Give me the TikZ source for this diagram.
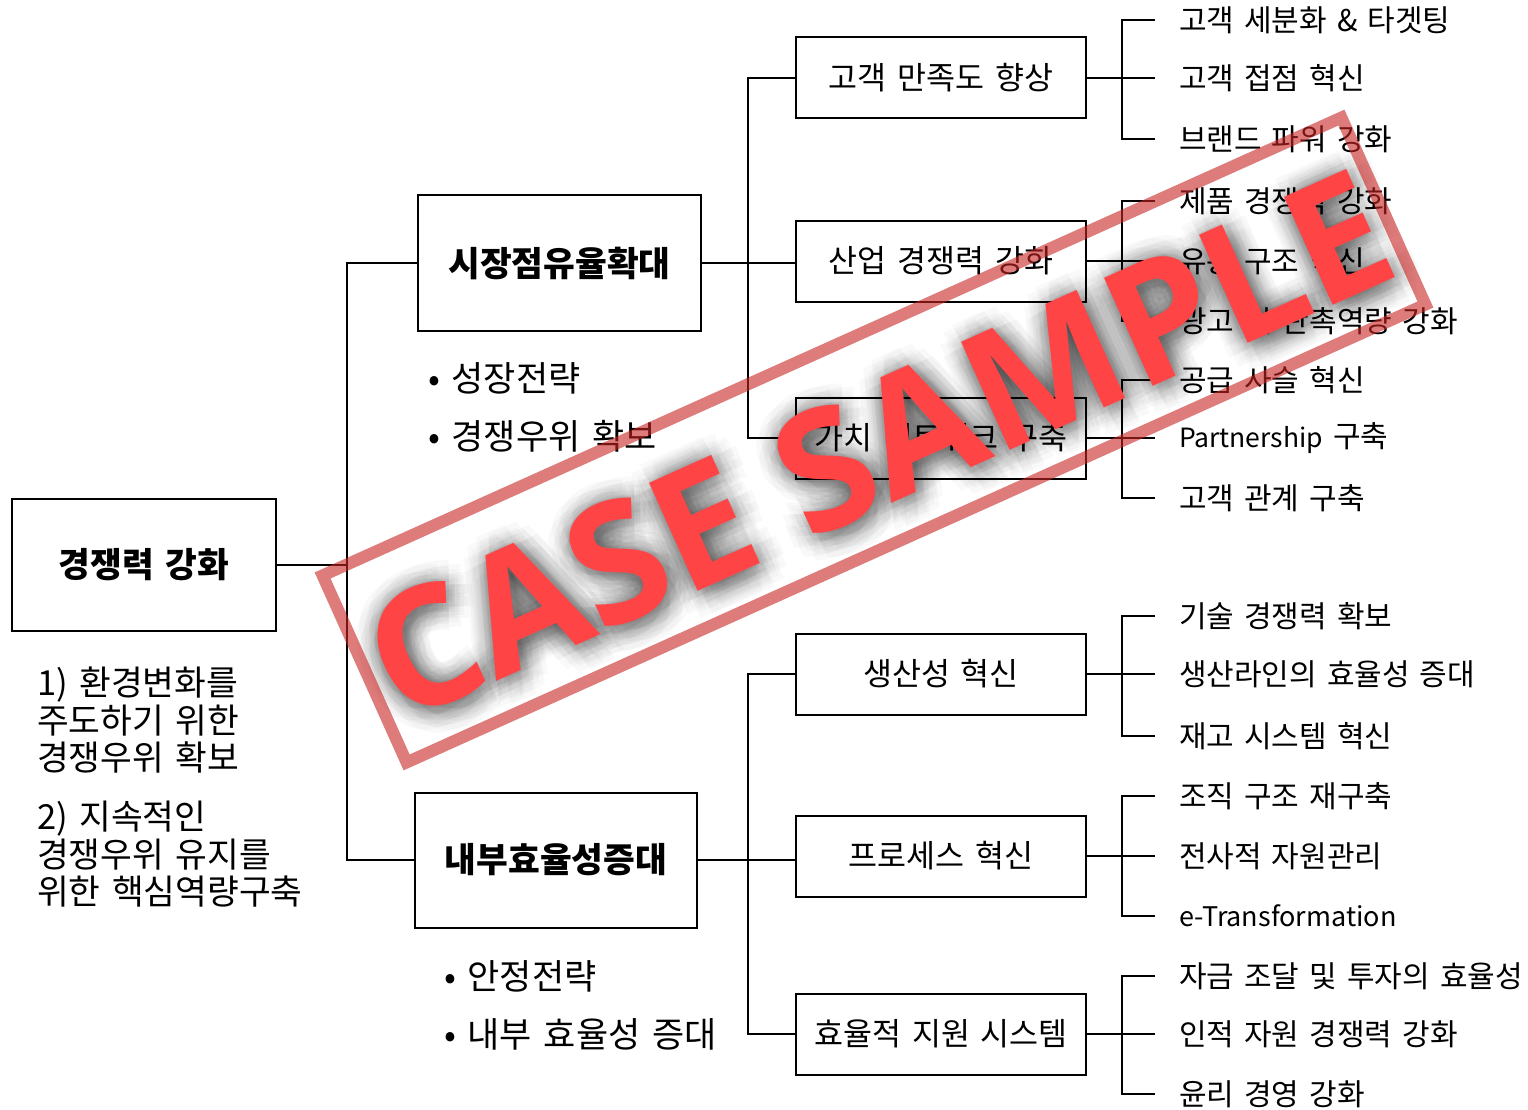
\documentclass[tikz,border=0pt]{standalone}
\usepackage{fontspec}
\setmainfont{Noto Sans CJK KR}[WordSpace=1.5]
\newfontfamily\wmfont{Open Sans}
\usetikzlibrary{calc}
\definecolor{wmred}{RGB}{255,68,70}
\definecolor{wmborder}{RGB}{200,35,35}
\newcommand{\latn}[2]{{\fontsize{#1}{#1}\selectfont #2}}
\begin{document}
\begin{tikzpicture}[x=1pt,y=-1pt,line width=2pt,
  bigbox/.style={draw,line width=2pt,inner sep=0pt,minimum width=#1,minimum height=135pt,font=\fontsize{34.5}{40}\selectfont\bfseries},
  midbox/.style={draw,line width=2pt,inner sep=0pt,minimum width=290pt,minimum height=81pt,font=\fontsize{31.5}{36}\selectfont},
  item/.style={anchor=west,inner sep=0pt,font=\fontsize{30}{35}\selectfont},
  note/.style={anchor=north west,inner sep=0pt,align=left,font=\fontsize{34.5}{37.5}\selectfont},
  bul/.style={anchor=west,inner sep=0pt,font=\fontsize{35}{40}\selectfont},
  wmtext/.style={inner sep=0pt,font=\wmfont\bfseries\fontsize{166}{166}\selectfont,rotate=24.2}]
\fill[white] (0,0) rectangle (1528,1110);
\useasboundingbox (0,0) rectangle (1528,1110);

% root and level 1
\node[bigbox=264pt,minimum height=132pt] (root) at (144,565) {경쟁력 강화};
\node[bigbox=283pt] (A) at (559.5,263) {시장점유율확대};
\node[bigbox=282pt] (B) at (556,860) {내부효율성증대};
\coordinate (sp1) at (347,0);
\coordinate (sp2) at (748,0);

% level 2
\node[midbox] (c1) at (941,78) {고객 만족도 향상};
\node[midbox] (c2) at (941,261) {산업 경쟁력 강화};
\node[midbox] (c3) at (941,438) {가치 네트워크 구축};
\node[midbox] (d1) at (941,674) {생산성 혁신};
\node[midbox] (d2) at (941,856) {프로세스 혁신};
\node[midbox] (d3) at (941,1034) {효율적 지원 시스템};

% level 3 items
\node[item] (i11) at (1178,20) {고객 세분화 \& 타겟팅};
\node[item] (i12) at (1178,78) {고객 접점 혁신};
\node[item] (i13) at (1178,139) {브랜드 파워 강화};
\node[item] (i21) at (1178,201) {제품 경쟁력 강화};
\node[item] (i22) at (1178,261) {유통 구조 혁신};
\node[item] (i23) at (1178,321) {광고 및 판촉역량 강화};
\node[item] (i31) at (1178,380) {공급 사슬 혁신};
\node[item] (i32) at (1178,438) {\latn{26.5}{Partnership} 구축};
\node[item] (i33) at (1178,498) {고객 관계 구축};
\node[item] (i41) at (1178,616) {기술 경쟁력 확보};
\node[item] (i42) at (1178,674) {생산라인의 효율성 증대};
\node[item] (i43) at (1178,736) {재고 시스템 혁신};
\node[item] (i51) at (1178,796) {조직 구조 재구축};
\node[item] (i52) at (1178,856) {전사적 자원관리};
\node[item] (i53) at (1178,916) {\latn{27}{e-Transformation}};
\node[item] (i61) at (1178,976) {자금 조달 및 투자의 효율성};
\node[item] (i62) at (1178,1034) {인적 자원 경쟁력 강화};
\node[item] (i63) at (1178,1094) {윤리 경영 강화};

% notes and bullets
\node[note] (n1) at (36,666) {1) 환경변화를\\주도하기 위한\\경쟁우위 확보};
\node[note] (n2) at (36,800) {2) 지속적인\\경쟁우위 유지를\\위한 핵심역량구축};
\node[bul] (b1) at (427,378) {• 성장전략};
\node[bul] (b2) at (427,436) {• 경쟁우위 확보};
\node[bul] (b3) at (443,976) {• 안정전략};
\node[bul] (b4) at (443,1034) {• 내부 효율성 증대};

% connectors level 0-1
\draw (root.east) -- (root.east -| sp1);
\draw (A.west) -- (A.west -| sp1) |- (B.west);
% level 1-2
\draw (A.east) -- (A.east -| c2.west);
\draw (c1.west) -- (c1.west -| sp2) |- (c3.west);
\draw (B.east) -- (B.east -| d2.west);
\draw (d1.west) -- (d1.west -| sp2) |- (d3.west);
% level 2-3 brackets
\foreach \b/\g in {c1/1,c2/2,c3/3,d1/4,d2/5,d3/6}{
  \draw (\b.east) -- ([xshift=-23pt]i\g2.west);
  \draw ([xshift=-23pt]i\g1.west) -- ++(-33,0) |- ([xshift=-23pt]i\g3.west);
}

% watermark
\coordinate (wmc) at (878,445);
\begin{scope}[blend mode=multiply]
\foreach \a in {0,30,...,330}{
  \foreach \r in {6,12,18,24}{
    \node[wmtext,text=black!30,opacity=0.075] at ($(wmc)+(\a:\r)+(3,3)$) {CASE SAMPLE};
  }
}
\end{scope}
\node[draw=wmborder,draw opacity=0.6,line width=12pt,minimum width=1117pt,minimum height=205pt,rotate=24.2,inner sep=0pt] (wmbox) at (874,440) {};
\node[wmtext,text=wmred] (wm) at (wmc) {CASE SAMPLE};
\end{tikzpicture}
\end{document}
